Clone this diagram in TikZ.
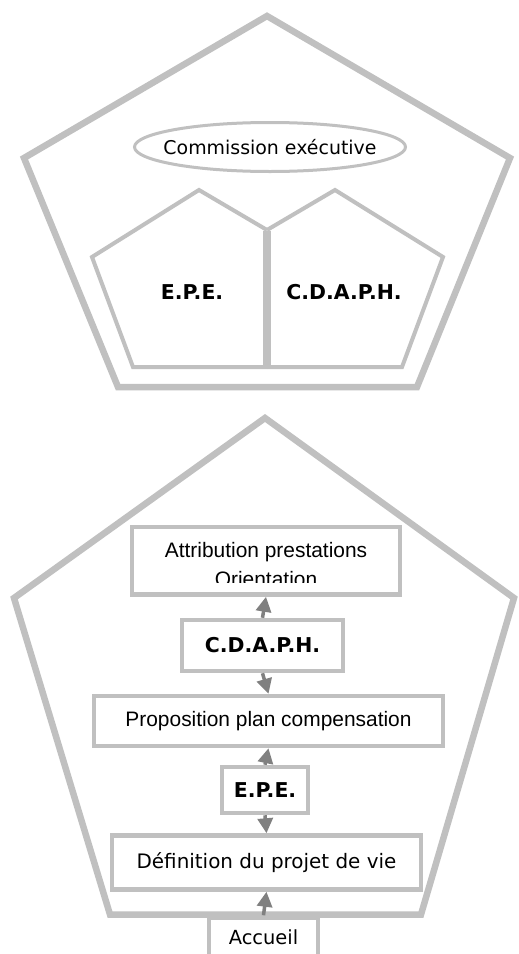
\documentclass[tikz,border=0pt]{standalone}
\usepackage{fontspec}
\setmainfont{Liberation Sans}
\newfontfamily\comic{DejaVu Sans}
\usetikzlibrary{shapes.geometric,arrows.meta}
\definecolor{framec}{HTML}{C0C0C0}
\definecolor{arrowc}{HTML}{808080}
\tikzset{
  pent/.style={draw=framec, line width=6.5bp, line join=miter},
  innerpent/.style={draw=framec, line width=4bp, line join=miter},
  divider/.style={draw=framec, line width=8bp},
  box/.style={draw=framec, fill=white, line width=4.5bp, inner sep=0pt},
  ell/.style={draw=framec, fill=white, line width=3bp, ellipse, inner sep=0pt,
    minimum width=271bp, minimum height=49bp},
  comictext/.style={font=\comic\fontsize{20}{22}\selectfont},
  boldtext/.style={font=\comic\bfseries\fontsize{20.5}{22}\selectfont},
  arialtext/.style={font=\fontsize{21}{24}\selectfont},
  arr/.style={draw=arrowc, line width=3.5bp, -{Triangle[width=15bp,length=15bp]}},
}
\begin{document}
\begin{tikzpicture}[x=1bp,y=-1bp]
\clip (0,0) rectangle (519,954);
\fill[white] (0,0) rectangle (519,954);
% ---------- upper pentagon ----------
\draw[pent] (267,16) -- (510,158) -- (417,387) -- (118,387) -- (24,158) -- cycle;
\node[ell, comictext, font=\comic\fontsize{19}{22}\selectfont] (ce) at (270,147) {\makebox[0pt]{Commission exécutive}};
\draw[innerpent] (267,230) -- (199,190) -- (92,257) -- (133,367) -- (267,367);
\draw[innerpent] (267,230) -- (335,190) -- (443,257) -- (402,367) -- (267,367);
\draw[divider] (267,231) -- (267,366);
\node[boldtext] (epeA) at (192,292) {E.P.E.};
\node[boldtext] (cdaphA) at (344,292) {C.D.A.P.H.};
% ---------- lower pentagon ----------
\draw[pent] (265,418) -- (514,598) -- (421,914.5) -- (110,914.5) -- (14,598) -- cycle;
\node[box, minimum width=268bp, minimum height=67.5bp] (attr) at (266,560.75) {};
\begin{scope}
  \clip (134,529) rectangle (398,582);
  \node[arialtext, anchor=base, inner sep=0pt] (attrA) at (266,557) {Attribution prestations};
  \node[arialtext, anchor=base, inner sep=0pt] (attrB) at (266,586) {Orientation};
\end{scope}
\node[box, boldtext, minimum width=161bp, minimum height=51bp] (cdaph) at (262.5,645.5) {\raisebox{-3bp}{C.D.A.P.H.}};
\node[box, arialtext, minimum width=349bp, minimum height=50bp] (prop) at (268.5,721) {Proposition plan compensation};
\node[box, boldtext, minimum width=86bp, minimum height=46bp] (epe) at (265,790) {\raisebox{-2bp}{E.P.E.}};
\node[box, comictext, minimum width=309bp, minimum height=54bp] (def) at (266.5,862.5) {Définition du projet de vie};
\node[box, comictext, font=\comic\fontsize{19.5}{22}\selectfont, minimum width=109bp, minimum height=40bp] (acc) at (263.5,937.5) {\raisebox{-5bp}{Accueil}};
% ---------- arrows ----------
\draw[arr] (cdaph.north) -- (attr.south);
\draw[arr] (cdaph.south) -- (prop.north);
\draw[arr] (epe.north) -- (prop.south);
\draw[arr] (epe.south) -- (def.north);
\draw[arr] (acc.north) -- (def.south);
\end{tikzpicture}
\end{document}
